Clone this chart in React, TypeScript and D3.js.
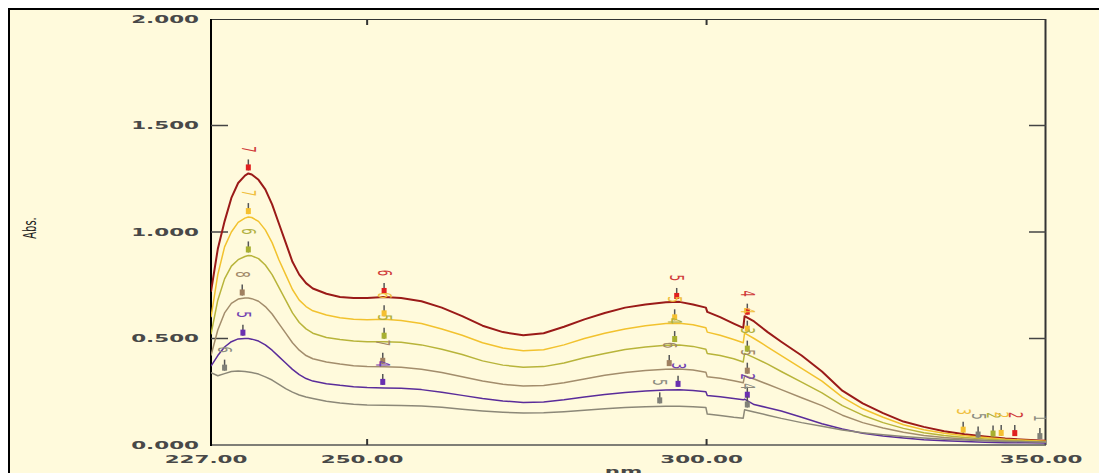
import React from 'react';
import * as d3 from 'd3';

// wavelengths (nm) shared by every scan
const wavelengths = [
  227, 228, 229, 230, 231, 232, 232.5, 233, 234, 235,
  236, 237, 238, 239, 240, 241, 242, 244, 246, 248,
  250, 252.5, 255, 258, 261, 264, 267, 270, 273, 276,
  279, 282, 285, 288, 291, 294, 296, 298, 299.9, 300.1,
  302, 304, 305.4, 305.6, 307, 309, 311, 314, 317, 320,
  323, 326, 329, 332, 335, 338, 341, 344, 347, 350,
];

const absRed = [
  0.72, 0.92, 1.05, 1.16, 1.23, 1.265, 1.275, 1.27, 1.245, 1.2,
  1.13, 1.04, 0.95, 0.86, 0.8, 0.76, 0.735, 0.71, 0.695, 0.69,
  0.69, 0.695, 0.69, 0.675, 0.645, 0.605, 0.56, 0.53, 0.515, 0.525,
  0.555, 0.59, 0.62, 0.645, 0.66, 0.67, 0.672, 0.66, 0.645, 0.625,
  0.6, 0.57, 0.55, 0.605, 0.58, 0.53, 0.485, 0.42, 0.345, 0.255,
  0.195, 0.15, 0.11, 0.085, 0.065, 0.05, 0.04, 0.03, 0.025, 0.02,
];
const absYellow = [
  0.6, 0.8, 0.93, 1.0, 1.045, 1.065, 1.07, 1.068, 1.05, 1.01,
  0.95, 0.87, 0.8, 0.73, 0.68, 0.65, 0.63, 0.61, 0.597, 0.59,
  0.588, 0.59, 0.585, 0.57, 0.545, 0.515, 0.48, 0.455, 0.443, 0.447,
  0.47, 0.5, 0.525, 0.545, 0.56, 0.57, 0.572, 0.565, 0.55, 0.53,
  0.515, 0.495, 0.48, 0.525, 0.5, 0.46, 0.42, 0.36, 0.3, 0.225,
  0.17, 0.13, 0.095, 0.072, 0.055, 0.043, 0.035, 0.027, 0.022, 0.018,
];
const absOlive = [
  0.52, 0.68, 0.78, 0.84, 0.87, 0.885, 0.89, 0.888, 0.875, 0.845,
  0.8, 0.74, 0.68, 0.62, 0.575, 0.545, 0.525, 0.505, 0.495, 0.488,
  0.485, 0.485, 0.482, 0.47, 0.45, 0.425, 0.395, 0.375, 0.365, 0.368,
  0.385, 0.41, 0.43, 0.448, 0.46, 0.468, 0.47, 0.463, 0.45, 0.43,
  0.42, 0.405, 0.39, 0.43, 0.41, 0.38, 0.345, 0.295, 0.245, 0.185,
  0.14, 0.105, 0.078, 0.058, 0.045, 0.035, 0.028, 0.022, 0.018, 0.015,
];
const absBrown = [
  0.42, 0.54, 0.62, 0.665, 0.685, 0.69, 0.69, 0.687, 0.675, 0.65,
  0.615, 0.57, 0.525, 0.48, 0.445, 0.42, 0.405, 0.39, 0.38, 0.372,
  0.368, 0.367, 0.365, 0.356, 0.34, 0.32, 0.3, 0.285, 0.277, 0.279,
  0.292, 0.31, 0.327, 0.34, 0.35, 0.356, 0.357, 0.352, 0.342, 0.32,
  0.313, 0.302, 0.292, 0.325, 0.31, 0.285, 0.26, 0.222, 0.185, 0.14,
  0.105, 0.08, 0.06, 0.045, 0.035, 0.028, 0.022, 0.018, 0.015, 0.012,
];
const absPurple = [
  0.37, 0.42, 0.46, 0.485, 0.498, 0.5, 0.5, 0.497, 0.488, 0.47,
  0.445, 0.415, 0.385, 0.355, 0.33, 0.312, 0.3, 0.288, 0.28, 0.274,
  0.27, 0.268, 0.266, 0.26, 0.248, 0.233, 0.218, 0.207, 0.2, 0.202,
  0.212, 0.225, 0.237, 0.247, 0.254, 0.258, 0.259, 0.256, 0.25, 0.232,
  0.226, 0.218, 0.212, 0.215, 0.19, 0.175, 0.16, 0.13, 0.1, 0.075,
  0.055, 0.042, 0.033, 0.025, 0.02, 0.016, 0.013, 0.011, 0.01, 0.009,
];
const absGray = [
  0.34, 0.325, 0.335, 0.345, 0.347, 0.345, 0.343, 0.34, 0.333, 0.32,
  0.305, 0.285, 0.265, 0.248, 0.235, 0.225, 0.218, 0.205, 0.197, 0.191,
  0.188, 0.187, 0.186, 0.183, 0.177, 0.168, 0.16, 0.154, 0.15, 0.151,
  0.156, 0.163, 0.17, 0.176, 0.18, 0.182, 0.182, 0.18, 0.176, 0.145,
  0.138, 0.13, 0.126, 0.165, 0.155, 0.14, 0.125, 0.105, 0.088, 0.07,
  0.058, 0.048, 0.04, 0.033, 0.027, 0.023, 0.02, 0.017, 0.015, 0.013,
];

const scans = [absRed, absYellow, absOlive, absBrown, absPurple, absGray];
const lineColors = ['#9a1a18', '#f2c22e', '#b8b43a', '#a38d6c', '#5a2c9a', '#8c8878'];
const markColors = ['#e02020', '#f5c030', '#a8b030', '#a08060', '#6a30b0', '#808078'];
const labelColors = ['#d03a3a', '#f0c040', '#b0b040', '#a08868', '#7040b0', '#8c8c80'];

// peak picks: scan index, wavelength, peak number
const peakScan = [0, 0, 0, 0, 1, 1, 1, 1, 2, 2, 2, 2, 3, 3, 3, 3, 4, 4, 4, 4, 5, 5, 5, 1, 5, 2, 1, 0, 5];
const peakNm = [232.5, 252.5, 295.6, 306, 232.5, 252.5, 295.3, 306, 232.5, 252.5, 295.3, 306,
  231.6, 252.3, 294.5, 306, 231.7, 252.3, 295.8, 306, 229, 293.1, 306, 337.8, 340, 342.2, 343.4, 345.4, 349.1];
const peakLabel = ['7', '6', '5', '4', '7', '6', '5', '4', '6', '5', '4', '3',
  '8', '7', '6', '5', '5', '4', '3', '2', '6', '5', '4', '3', '5', '2', '2', '2', '1'];

const yTicks = [0, 0.5, 1, 1.5, 2];
const xTicks = [227, 250, 300, 350];

const W = 1099, H = 473;
const left = 211, right = 1046, top = 19, bottom = 445;
const cream = '#fffadc';
const font = '"DejaVu Sans", Verdana, sans-serif';

export default function App() {
  const x = d3.scaleLinear().domain([227, 350]).range([left, right]);
  const y = d3.scaleLinear().domain([0, 2]).range([bottom, top]);
  const line = d3.line<number>().x((_, i) => x(wavelengths[i])).y(d => y(d));

  const valueAt = (s: number[], nm: number) => {
    const i = Math.max(1, d3.bisectLeft(wavelengths, nm));
    const t = (nm - wavelengths[i - 1]) / (wavelengths[i] - wavelengths[i - 1]);
    return s[i - 1] + (s[i] - s[i - 1]) * t;
  };

  return (
    <svg width={W} height={H} style={{ position: 'absolute', left: 0, top: 0, background: '#fff' }}>
      <defs>
        <clipPath id="plot"><rect x={left} y={top} width={right - left} height={bottom - top} /></clipPath>
      </defs>
      <rect x={9} y={9} width={W - 9} height={H - 9} fill={cream} />
      <line x1={8} x2={W} y1={9} y2={9} stroke="#000" strokeWidth={2} />
      <line x1={9} x2={9} y1={8} y2={H} stroke="#000" strokeWidth={2} />

      {/* frame */}
      <line x1={left} x2={right} y1={top + 0.5} y2={top + 0.5} stroke="#333" strokeWidth={1} />
      <line x1={right - 0.5} x2={right - 0.5} y1={top} y2={bottom} stroke="#333" strokeWidth={2} />
      <line x1={left} x2={right} y1={bottom} y2={bottom} stroke="#555" strokeWidth={1.5} />
      <line x1={left} x2={left} y1={top} y2={bottom + 1} stroke="#000" strokeWidth={2} />

      {yTicks.filter(v => v > 0 && v < 2).map(v => (
        <g key={'yt' + v}>
          <line x1={left} x2={left + 17} y1={y(v)} y2={y(v)} stroke="#444" strokeWidth={1.5} />
          <line x1={right - 17} x2={right} y1={y(v)} y2={y(v)} stroke="#444" strokeWidth={1.5} />
        </g>
      ))}
      {xTicks.filter(v => v > 227 && v < 350).map(v => (
        <g key={'xt' + v}>
          <line x1={x(v)} x2={x(v)} y1={top} y2={top + 6} stroke="#333" strokeWidth={2} />
          <line x1={x(v)} x2={x(v)} y1={bottom} y2={bottom - 6} stroke="#333" strokeWidth={2} />
        </g>
      ))}

      {yTicks.map(v => (
        <text key={'yl' + v} transform={`translate(199,${y(v)}) scale(1.95,1)`} textAnchor="end"
          dominantBaseline="central" fontFamily={font} fontSize={11} fontWeight="bold" fill="#484848">{v.toFixed(3)}</text>
      ))}
      {xTicks.map(v => (
        <text key={'xl' + v} transform={`translate(${x(v) - 5},463) scale(1.95,1)`} textAnchor="middle"
          fontFamily={font} fontSize={11} fontWeight="bold" fill="#484848">{v.toFixed(2)}</text>
      ))}
      <text transform={`translate(${(left + right) / 2 - 5},475) scale(1.95,1)`} textAnchor="middle"
        fontFamily={font} fontSize={11} fontWeight="bold" fill="#484848">nm</text>
      <text transform="translate(29,228) scale(1.8,1) rotate(-90)" textAnchor="middle" dominantBaseline="central"
        fontFamily={font} fontSize={10} fill="#222">Abs.</text>

      <g clipPath="url(#plot)">
        {scans.map((s, k) => (
          <path key={'s' + k} d={line(s) || ''} fill="none" stroke={lineColors[k]}
            strokeWidth={k === 0 ? 2 : 1.5} strokeLinejoin="round" />
        ))}
        {peakNm.map((nm, i) => {
          const k = peakScan[i];
          const px = x(nm);
          const py = y(valueAt(scans[k], nm));
          return (
            <g key={'p' + i}>
              <line x1={px} x2={px} y1={py - 14} y2={py - 3} stroke="#555" strokeWidth={1.5} />
              <rect x={px - 2.5} y={py - 9} width={5} height={6} fill={markColors[k]} />
              <text transform={`translate(${px},${py - 24}) scale(1.9,1) rotate(90)`} textAnchor="middle"
                dominantBaseline="central" fontFamily={font} fontSize={10} fill={labelColors[k]}>{peakLabel[i]}</text>
            </g>
          );
        })}
      </g>
    </svg>
  );
}
